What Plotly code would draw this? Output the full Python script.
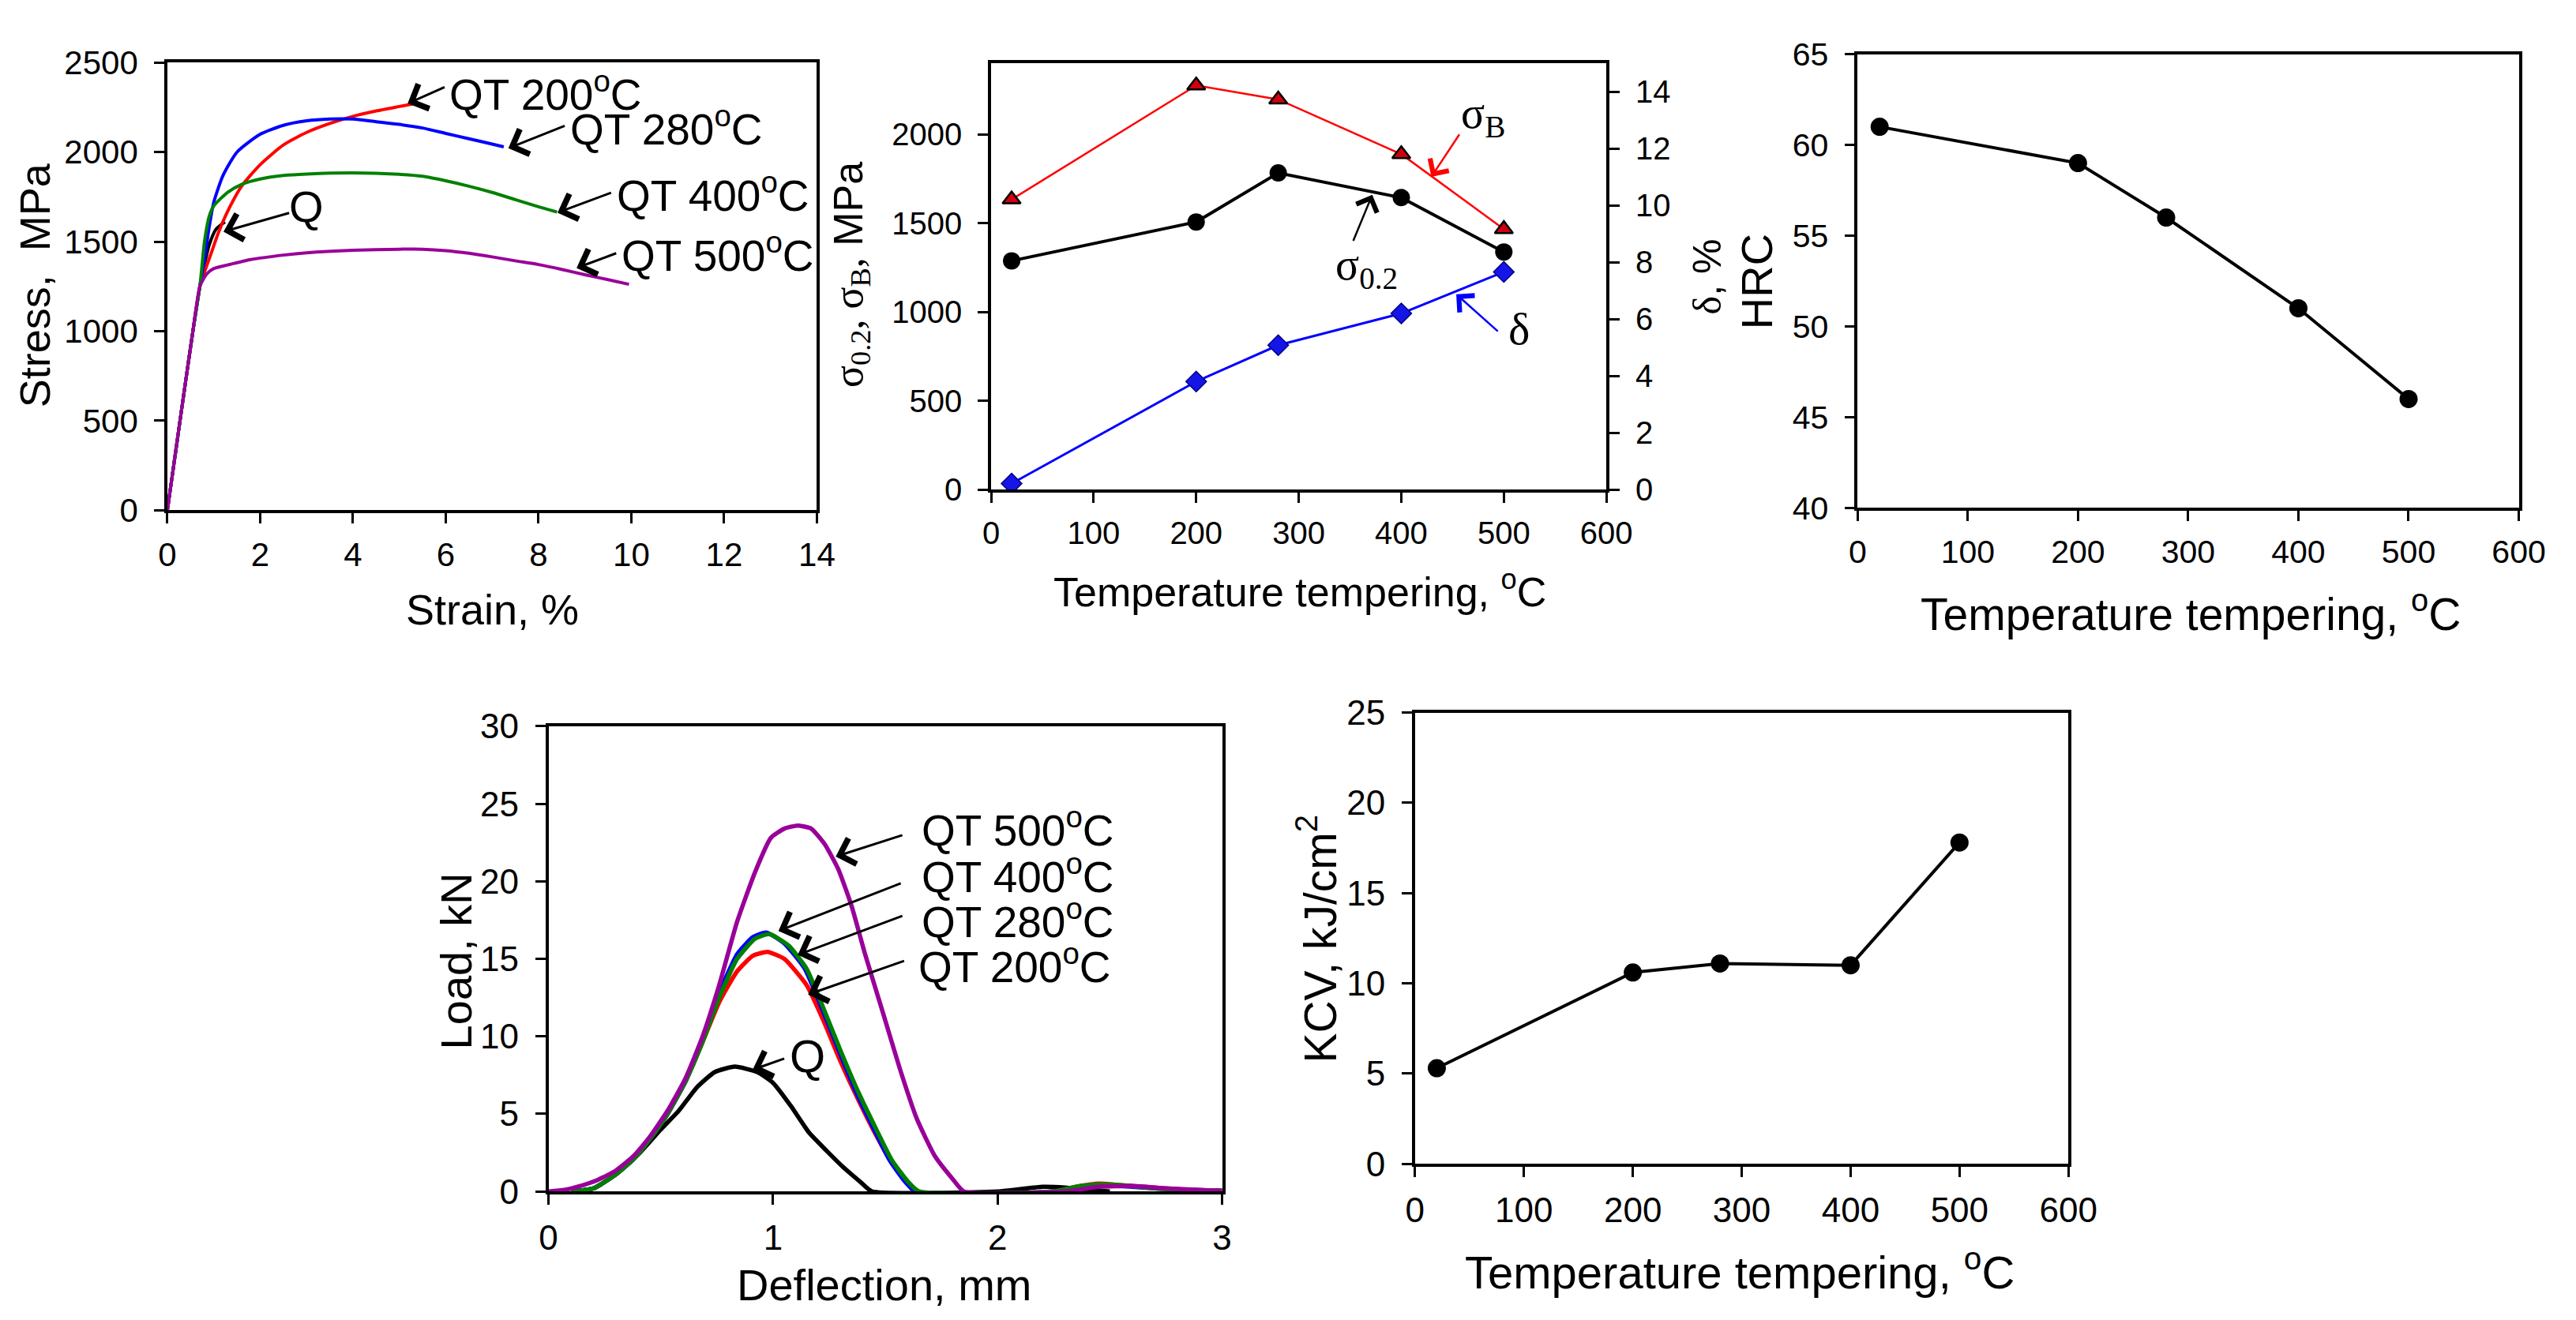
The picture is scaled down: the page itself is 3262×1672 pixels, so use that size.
import plotly.graph_objects as go

W, H = 3262, 1672
SANS = "Liberation Sans, Arial, sans-serif"
SERIF = "Liberation Serif, Times New Roman, serif"

# ---------------- Panel 1: stress-strain ----------------
strain_q = [0, 0.3, 0.55, 0.7, 0.9, 1.05, 1.24]
stress_q = [0, 550, 1000, 1250, 1480, 1570, 1610]
strain_200 = [0, 0.3, 0.55, 0.7, 0.8, 0.95, 1.1, 1.3, 1.6, 2.0, 2.5, 3.0, 3.5, 4.0, 4.5, 5.0, 5.35]
stress_200 = [0, 550, 1000, 1250, 1330, 1440, 1550, 1670, 1810, 1930, 2040, 2110, 2160, 2200, 2230, 2255, 2272]
strain_280 = [0, 0.3, 0.55, 0.7, 0.8, 0.9, 1.0, 1.2, 1.5, 2.0, 2.5, 3.0, 3.5, 4.0, 4.5, 5.0, 5.5, 6.0, 6.5, 7.0, 7.25]
stress_280 = [0, 550, 1000, 1250, 1400, 1580, 1720, 1870, 2000, 2100, 2150, 2175, 2185, 2185, 2170, 2155, 2135, 2105, 2075, 2045, 2030]
strain_400 = [0, 0.3, 0.55, 0.7, 0.8, 0.9, 1.0, 1.3, 1.6, 2.0, 2.5, 3.0, 4.0, 5.0, 5.5, 6.0, 6.5, 7.0, 7.5, 8.0, 8.4]
stress_400 = [0, 550, 1000, 1250, 1500, 1640, 1700, 1776, 1820, 1850, 1870, 1878, 1884, 1876, 1865, 1840, 1810, 1775, 1735, 1695, 1665]
strain_500 = [0, 0.3, 0.55, 0.7, 0.85, 1.0, 1.3, 1.8, 2.5, 3.0, 4.0, 5.0, 5.5, 6.0, 6.5, 7.0, 7.5, 8.0, 8.5, 9.0, 9.5, 9.95]
stress_500 = [0, 550, 1000, 1250, 1320, 1350, 1370, 1400, 1425, 1438, 1452, 1458, 1458, 1450, 1435, 1415, 1393, 1372, 1345, 1315, 1288, 1262]

# ---------------- Panel 2/3/5: tempering temperature ----------------
temper = [20, 200, 280, 400, 500]
sigma_b = [1634, 2276, 2197, 1889, 1467]
sigma_02 = [1288, 1507, 1783, 1644, 1338]
delta = [0.21, 3.80, 5.08, 6.20, 7.66]
hrc = [61, 59, 56, 51, 46]
kcv = [5.3, 10.6, 11.1, 11.0, 17.8]

# ---------------- Panel 4: load-deflection ----------------
defl_q = [0.10, 0.20, 0.30, 0.40, 0.50, 0.58, 0.66, 0.74, 0.83, 0.93, 1.00, 1.08, 1.16, 1.24, 1.31, 1.39, 1.44, 2.00, 2.10, 2.20, 2.30, 2.40, 2.50]
load_q = [0, 0.2, 1.1, 2.4, 4.0, 5.2, 6.7, 7.7, 8.05, 7.7, 7.0, 5.5, 3.8, 2.6, 1.6, 0.6, 0, 0, 0.15, 0.3, 0.25, 0.1, 0]
defl_200 = [0.10, 0.20, 0.30, 0.38, 0.45, 0.53, 0.61, 0.685, 0.76, 0.84, 0.91, 0.975, 1.05, 1.15, 1.225, 1.30, 1.38, 1.46, 1.53, 1.60, 1.63, 2.25, 2.35, 2.45, 2.55, 2.70, 2.85, 3.0]
load_200 = [0, 0.2, 1.1, 2.1, 3.35, 5.0, 7.1, 9.6, 12.2, 14.2, 15.2, 15.45, 15.0, 13.3, 11.0, 8.4, 5.9, 3.6, 1.8, 0.5, 0, 0, 0.3, 0.5, 0.4, 0.25, 0.1, 0.05]
defl_280 = [0.10, 0.20, 0.30, 0.38, 0.45, 0.53, 0.61, 0.685, 0.76, 0.84, 0.91, 0.97, 1.05, 1.14, 1.215, 1.29, 1.37, 1.45, 1.52, 1.59, 1.635, 2.25, 2.35, 2.45, 2.55, 2.70, 2.85, 3.0]
load_280 = [0, 0.2, 1.1, 2.1, 3.35, 5.0, 7.1, 9.7, 12.8, 15.3, 16.4, 16.7, 16.0, 14.4, 11.9, 9.2, 6.4, 4.0, 2.0, 0.6, 0, 0, 0.25, 0.4, 0.35, 0.2, 0.1, 0.05]
defl_400 = [0.10, 0.20, 0.30, 0.38, 0.45, 0.53, 0.61, 0.685, 0.76, 0.84, 0.92, 0.985, 1.07, 1.15, 1.225, 1.30, 1.38, 1.46, 1.53, 1.60, 1.65, 2.25, 2.35, 2.45, 2.55, 2.70, 2.85, 3.0]
load_400 = [0, 0.2, 1.1, 2.1, 3.35, 5.0, 7.1, 9.6, 12.5, 15.0, 16.3, 16.6, 15.85, 14.35, 11.8, 9.1, 6.4, 4.0, 2.0, 0.65, 0, 0, 0.3, 0.45, 0.4, 0.2, 0.1, 0.05]
defl_500 = [0, 0.07, 0.14, 0.22, 0.30, 0.38, 0.45, 0.53, 0.61, 0.685, 0.76, 0.84, 0.92, 0.99, 1.05, 1.11, 1.17, 1.23, 1.29, 1.35, 1.41, 1.49, 1.565, 1.64, 1.72, 1.80, 1.85, 2.30, 2.45, 2.60, 2.75, 2.90, 3.0]
load_500 = [0, 0.1, 0.35, 0.75, 1.35, 2.3, 3.5, 5.2, 7.3, 9.95, 13.3, 17.4, 20.6, 22.8, 23.4, 23.6, 23.4, 22.4, 20.8, 18.4, 15.3, 11.5, 7.9, 4.7, 2.3, 0.8, 0, 0, 0.3, 0.35, 0.2, 0.1, 0.05]

# tick values
ticks_strain = [0, 2, 4, 6, 8, 10, 12, 14]
ticks_stress = [0, 500, 1000, 1500, 2000, 2500]
ticks_temp = [0, 100, 200, 300, 400, 500, 600]
ticks_sig = [0, 500, 1000, 1500, 2000]
ticks_delta = [0, 2, 4, 6, 8, 10, 12, 14]
ticks_hrc = [40, 45, 50, 55, 60, 65]
ticks_defl = [0, 1, 2, 3]
ticks_load = [0, 5, 10, 15, 20, 25, 30]
ticks_kcv = [0, 5, 10, 15, 20, 25]

RED, BLUE, GREEN, PURPLE = "#FF0000", "#0000FF", "#008000", "#990099"


def px_x(p):
    return p / W


def px_y(p):
    return 1 - p / H


fig = go.Figure()

# Panel 1
for xs, ys, c in [(strain_q, stress_q, "black"), (strain_200, stress_200, RED),
                  (strain_280, stress_280, BLUE), (strain_400, stress_400, GREEN),
                  (strain_500, stress_500, PURPLE)]:
    fig.add_trace(go.Scatter(x=xs, y=ys, mode="lines", line=dict(color=c, width=4, shape="spline", smoothing=0.6),
                             xaxis="x", yaxis="y", showlegend=False))

# Panel 2
fig.add_trace(go.Scatter(x=temper, y=sigma_b, mode="lines+markers", line=dict(color=RED, width=2.5),
                         marker=dict(symbol="triangle-up", size=20, color="#D00010", line=dict(color="black", width=2.5)),
                         xaxis="x2", yaxis="y2", showlegend=False))
fig.add_trace(go.Scatter(x=temper, y=sigma_02, mode="lines+markers", line=dict(color="black", width=4),
                         marker=dict(symbol="circle", size=22, color="black"),
                         xaxis="x2", yaxis="y2", showlegend=False))
fig.add_trace(go.Scatter(x=temper, y=delta, mode="lines+markers", line=dict(color=BLUE, width=3),
                         marker=dict(symbol="diamond", size=20, color="#1515E8", line=dict(color="#000080", width=1.5)),
                         xaxis="x2", yaxis="y3", showlegend=False))

# Panel 3
fig.add_trace(go.Scatter(x=temper, y=hrc, mode="lines+markers", line=dict(color="black", width=4),
                         marker=dict(symbol="circle", size=23, color="black"),
                         xaxis="x3", yaxis="y4", showlegend=False))

# Panel 4
for xs, ys, c in [(defl_q, load_q, "black"), (defl_200, load_200, RED), (defl_280, load_280, BLUE),
                  (defl_400, load_400, GREEN), (defl_500, load_500, PURPLE)]:
    fig.add_trace(go.Scatter(x=xs, y=ys, mode="lines", line=dict(color=c, width=5.5, shape="spline", smoothing=0.5),
                             xaxis="x4", yaxis="y5", showlegend=False))

# Panel 5
fig.add_trace(go.Scatter(x=temper, y=kcv, mode="lines+markers", line=dict(color="black", width=4),
                         marker=dict(symbol="circle", size=23, color="black"),
                         xaxis="x5", yaxis="y6", showlegend=False))


def axis(domain, anchor, rng, tickvals, size, letter, mirror=True, side=None, overlaying=None):
    d = dict(domain=domain, anchor=anchor, range=rng, tickmode="array", tickvals=tickvals,
             showline=True, linecolor="black", linewidth=3.5, mirror=mirror,
             ticks="outside", ticklen=13, tickwidth=3, tickcolor="black",
             showgrid=False, zeroline=False, tickformat="d",
             ticklabelstandoff=(12 if letter == "y" else 4),
             tickfont=dict(family=SANS, size=size, color="black"))
    if side:
        d["side"] = side
    if overlaying:
        d["overlaying"] = overlaying
        d.pop("domain")
    return d


fig.update_layout(
    width=W, height=H, margin=dict(l=0, r=0, t=0, b=0),
    paper_bgcolor="white", plot_bgcolor="white",
    xaxis=axis([px_x(203), px_x(1038)], "y", [0, 14], ticks_strain, 42, "x"),
    yaxis=axis([px_y(640), px_y(56)], "x", [0, 2500], ticks_stress, 42, "y"),
    xaxis2=axis([px_x(1262), px_x(2053)], "y2", [0, 600], ticks_temp, 40, "x"),
    yaxis2=axis([px_y(613), px_y(57)], "x2", [0, 2400], ticks_sig, 40, "y", mirror=False),
    yaxis3=axis(None, "x2", [0, 15], ticks_delta, 40, "y", mirror=False, side="right", overlaying="y2"),
    xaxis3=axis([px_x(2376), px_x(3226)], "y4", [0, 600], ticks_temp, 41, "x"),
    yaxis4=axis([px_y(637), px_y(45)], "x3", [40, 65], ticks_hrc, 41, "y"),
    xaxis4=axis([px_x(693), px_x(1559)], "y5", [0, 3], ticks_defl, 44, "x"),
    yaxis5=axis([px_y(1529), px_y(922)], "x4", [0, 30], ticks_load, 44, "y"),
    xaxis5=axis([px_x(1807), px_x(2647)], "y6", [0, 600], ticks_temp, 44, "x"),
    yaxis6=axis([px_y(1493), px_y(904)], "x5", [0, 25], ticks_kcv, 44, "y"),
)

ann = []


def title(text, cx, cy, size, angle=0):
    ann.append(dict(text=text, x=px_x(cx), y=px_y(cy), xref="paper", yref="paper", showarrow=False,
                    xanchor="center", yanchor="middle", textangle=angle,
                    font=dict(family=SANS, size=size, color="black")))


title("Stress,  MPa", 32, 347, 54, -90)
title("Strain, %", 621, 770, 54)
title('<span style="font-family:Liberation Serif">σ<sub>0.2</sub>, σ<sub>B</sub>,</span> MPa', 1082, 333, 52, -90)
title('<span style="font-family:Liberation Serif">δ</span>, %', 2183, 335, 50, -90)
title("HRC", 2247, 342, 56, -90)
title("Temperature tempering, <sup>o</sup>C", 1659, 743, 52)
title("Temperature tempering, <sup>o</sup>C", 2804, 772, 57)
title("Load, kN", 574, 1228, 56, -90)
title("Deflection, mm", 1124, 1651, 56)
title("KCV, kJ/cm<sup>2</sup>", 1681, 1199, 57, -90)
title("Temperature tempering, <sup>o</sup>C", 2224, 1630, 58)


def label(text, x, y, xr, yr, size, family=SANS, xanchor="left"):
    ann.append(dict(text=text, x=x, y=y, xref=xr, yref=yr, showarrow=False, xanchor=xanchor, yanchor="middle",
                    font=dict(family=family, size=size, color="black")))


def arrow(x, y, ax, ay, xr, yr, color="black", width=3):
    ann.append(dict(text="", x=x, y=y, ax=ax, ay=ay, xref=xr, yref=yr, axref=xr, ayref=yr,
                    showarrow=True, arrowhead=4, arrowsize=2.2, arrowwidth=width, arrowcolor=color))


# Panel 1 labels
label("QT 200<sup>o</sup>C", 6.05, 2340, "x", "y", 55)
label("QT 280<sup>o</sup>C", 8.65, 2145, "x", "y", 55)
label("QT 400<sup>o</sup>C", 9.65, 1775, "x", "y", 55)
label("QT 500<sup>o</sup>C", 9.75, 1440, "x", "y", 55)
label("Q", 3.0, 1697, "x", "y", 56, xanchor="center")
arrow(5.18, 2272, 6.0, 2366, "x", "y")
arrow(7.35, 2022, 8.59, 2150, "x", "y")
arrow(8.41, 1662, 9.59, 1776, "x", "y")
arrow(8.82, 1353, 9.7, 1438, "x", "y")
arrow(1.21, 1556, 2.65, 1662, "x", "y")

# Panel 2 labels
label("σ<sub>B</sub>", 457, 2105, "x2", "y2", 56, family=SERIF)
label("σ<sub>0.2</sub>", 334, 1250, "x2", "y2", 56, family=SERIF)
label("δ", 515, 905, "x2", "y2", 58, family=SERIF, xanchor="center")
arrow(429.3, 1761, 457.4, 2007, "x2", "y2", color=RED, width=2.5)
arrow(371.7, 1660, 352.7, 1394, "x2", "y2", color="black", width=2.5)
arrow(453.6, 1100, 495.3, 885, "x2", "y2", color=BLUE, width=2.5)

# Panel 4 labels
label("QT 500<sup>o</sup>C", 1.655, 23.5, "x4", "y5", 55)
label("QT 400<sup>o</sup>C", 1.655, 20.5, "x4", "y5", 55)
label("QT 280<sup>o</sup>C", 1.655, 17.55, "x4", "y5", 55)
label("QT 200<sup>o</sup>C", 1.64, 14.65, "x4", "y5", 55)
label("Q", 1.152, 8.74, "x4", "y5", 58, xanchor="center")
arrow(1.279, 21.6, 1.581, 23.0, "x4", "y5")
arrow(1.024, 16.8, 1.574, 19.9, "x4", "y5")
arrow(1.110, 15.26, 1.581, 17.8, "x4", "y5")
arrow(1.156, 12.7, 1.589, 14.9, "x4", "y5")
arrow(0.909, 7.85, 1.055, 8.6, "x4", "y5")

fig.update_layout(annotations=ann)
fig.write_html("out.html")
